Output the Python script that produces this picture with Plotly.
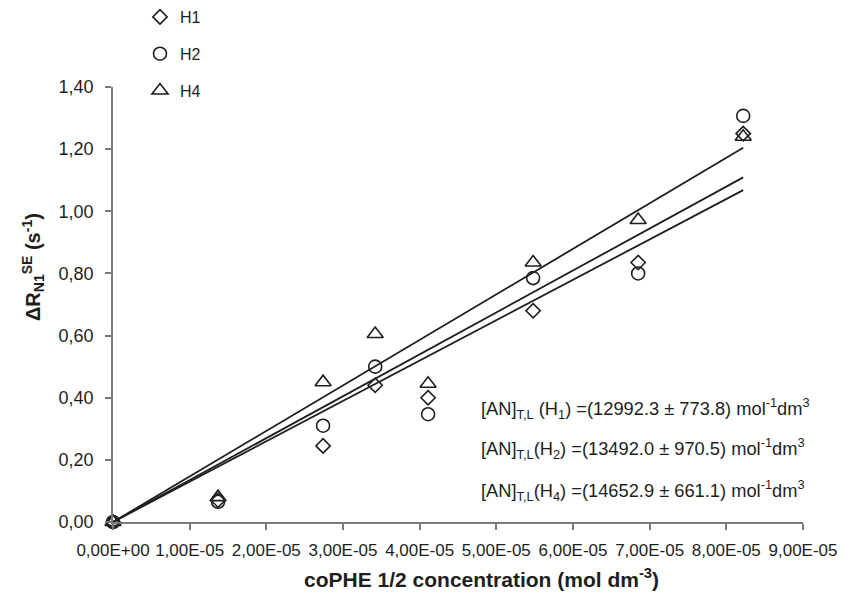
import plotly.graph_objects as go

# Data
conc = [0.0, 1.37e-5, 2.74e-5, 3.42e-5, 4.11e-5, 5.48e-5, 6.85e-5, 8.22e-5]
h1 = [0.0, 0.07, 0.245, 0.44, 0.40, 0.68, 0.835, 1.25]
h2 = [0.0, 0.065, 0.31, 0.50, 0.347, 0.785, 0.80, 1.307]
h4 = [0.0, 0.08, 0.45, 0.605, 0.445, 0.835, 0.972, 1.24]
slopes = {"H1": 12992.3, "H2": 13492.0, "H4": 14652.9}
errors = {"H1": 773.8, "H2": 970.5, "H4": 661.1}

x_ticks = [i * 1e-5 for i in range(10)]
x_ticktext = ["0,00E+00"] + ["%d,00E-05" % i for i in range(1, 10)]
y_ticks = [0.0, 0.2, 0.4, 0.6, 0.8, 1.0, 1.2, 1.4]
y_ticktext = ["0,00", "0,20", "0,40", "0,60", "0,80", "1,00", "1,20", "1,40"]

FONT = "Liberation Sans, Arial, Helvetica, sans-serif"
INK = "#1e1e1e"
AX = "#7a7a7a"

fig = go.Figure()

series = [("H1", h1, "diamond-open", 11), ("H2", h2, "circle-open", 13), ("H4", h4, "triangle-up-open", 14)]
for name, vals, sym, size in series:
    fig.add_trace(go.Scatter(
        x=conc, y=vals, mode="markers", name=name,
        legendgroup=name,
        marker=dict(symbol=sym, size=size, color=INK, line=dict(width=1.6, color=INK)),
        cliponaxis=False,
    ))

for name in ["H1", "H2", "H4"]:
    xs = [conc[0], conc[-1]]
    fig.add_trace(go.Scatter(
        x=xs, y=[slopes[name] * v for v in xs], mode="lines",
        line=dict(color=INK, width=1.8), showlegend=False, hoverinfo="skip",
        cliponaxis=False,
    ))

ann_y = [0.364, 0.235, 0.103]
seps = [" ", "", ""]
for (name, sub), yy, sp in zip([("H1", "1"), ("H2", "2"), ("H4", "4")], ann_y, seps):
    txt = ("[AN]<sub>T,L</sub>%s(H<sub>%s</sub>) =(%.1f ± %.1f) mol<sup>-1</sup>dm<sup>3</sup>"
           % (sp, sub, slopes[name], errors[name]))
    fig.add_annotation(x=4.78e-5, y=yy, xref="x", yref="y", text=txt, showarrow=False,
                       xanchor="left", yanchor="middle",
                       font=dict(family=FONT, size=18.3, color=INK))

# axis titles
fig.add_annotation(xref="paper", yref="paper", x=0.534, y=-0.129,
                   text="<b>coPHE 1/2 concentration (mol dm<sup>-3</sup>)</b>",
                   showarrow=False, xanchor="center", yanchor="middle",
                   font=dict(family=FONT, size=21, color=INK))
fig.add_annotation(xref="paper", yref="paper", x=-0.116, y=0.586, textangle=-90,
                   text="<b>ΔR<sub>N1</sub><sup>SE</sup> (s<sup>-1</sup>)</b>",
                   showarrow=False, xanchor="center", yanchor="middle",
                   font=dict(family=FONT, size=20, color=INK))

fig.update_layout(
    width=857, height=594,
    margin=dict(l=113, r=54, t=87, b=72, autoexpand=False),
    paper_bgcolor="white", plot_bgcolor="white",
    font=dict(family=FONT, size=17, color=INK),
    showlegend=True,
    legend=dict(xref="container", yref="container", x=140 / 857, y=1,
                xanchor="left", yanchor="top",
                font=dict(family=FONT, size=16, color=INK),
                tracegroupgap=13, bgcolor="rgba(0,0,0,0)"),
    xaxis=dict(range=[0, 9e-5], tickvals=x_ticks, ticktext=x_ticktext,
               showgrid=False, zeroline=False, showline=True, linecolor=AX, linewidth=1.5,
               ticks="outside", ticklen=6, tickcolor=AX, tickwidth=1.5,
               ticklabelstandoff=6,
               tickfont=dict(family=FONT, size=17, color=INK)),
    yaxis=dict(range=[0, 1.4], tickvals=y_ticks, ticktext=y_ticktext,
               showgrid=False, zeroline=False, showline=True, linecolor=AX, linewidth=1.5,
               ticks="outside", ticklen=6, tickcolor=AX, tickwidth=1.5,
               ticklabelstandoff=8,
               tickfont=dict(family=FONT, size=18, color=INK)),
)

fig.write_html("out.html")
